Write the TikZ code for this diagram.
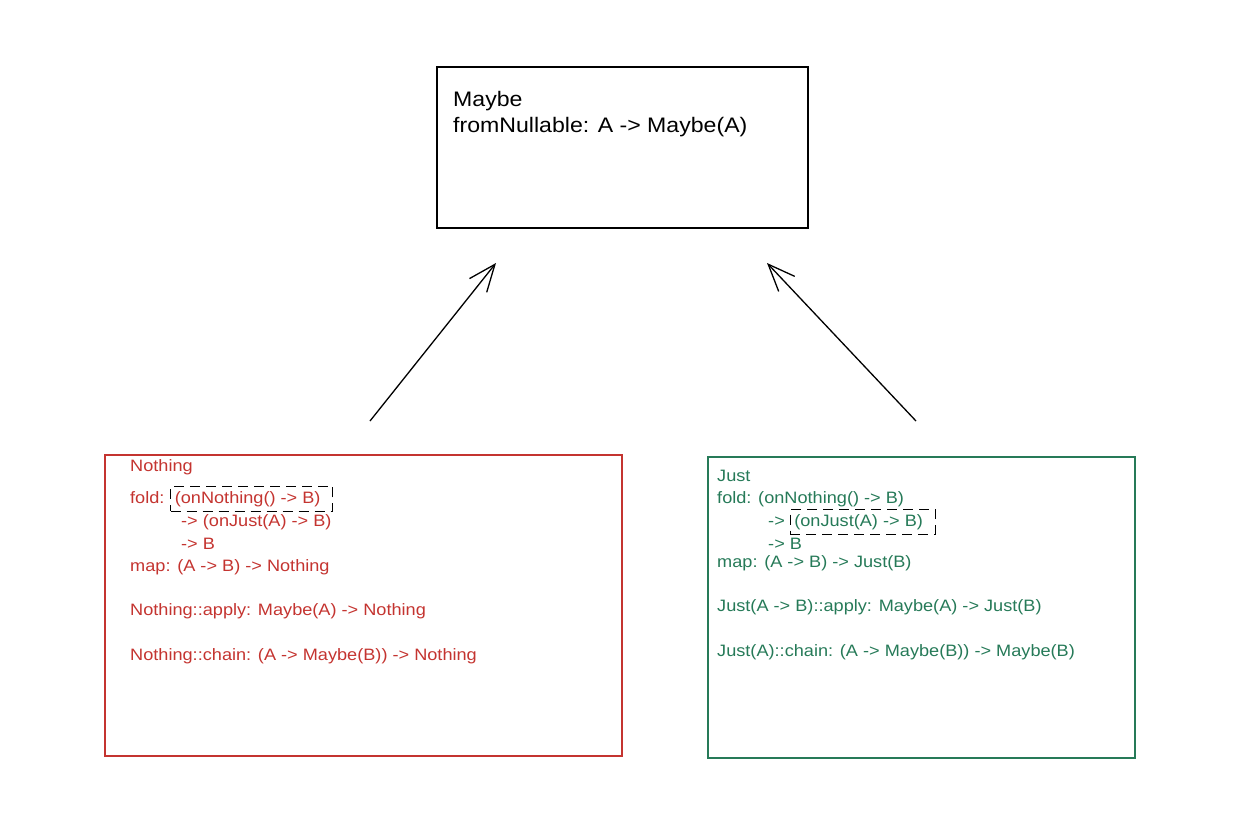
\documentclass[tikz,border=0pt]{standalone}
\usepackage{fontspec}
\setmainfont[FakeStretch=1.1]{Liberation Sans}
\usetikzlibrary{arrows.meta,fit}
\definecolor{nothingred}{RGB}{196,52,48}
\definecolor{justgreen}{RGB}{38,122,88}
\tikzset{
  classbox/.style={draw, line width=1.3pt, inner sep=0pt},
  hintbox/.style={draw=black, dash pattern=on 10pt off 6pt, line width=1.2pt, inner xsep=8pt, inner ysep=4.5pt, xshift=4pt},
  codeline/.style={anchor=base west, inner sep=0pt, font=\fontsize{16.5}{19}\selectfont},
  headline/.style={anchor=base west, inner sep=0pt, font=\fontsize{21}{24}\selectfont},
  extends/.style={line width=1.3pt, -{Straight Barb[length=27pt,width=22pt,line width=1.3pt]}}
}
\begin{document}
\begin{tikzpicture}[x=1pt,y=-1pt]
  \useasboundingbox (0,0) rectangle (1252,822);

  % Maybe
  \node[classbox, minimum width=371pt, minimum height=161pt] (maybe) at (622.5,147.5) {};
  \node[headline] (maybeName) at (453,106) {Maybe};
  \node[headline] (maybeFrom) at (453,132) {fromNullable: A -> Maybe(A)};

  % Nothing
  \node[classbox, draw=nothingred, minimum width=517pt, minimum height=301pt] (nothing) at (363.5,605.5) {};
  \begin{scope}[every node/.style={codeline, text=nothingred}]
    \node (nName)  at (130,471) {Nothing};
    \node (nFold)  at (130,503) {fold:\kern0.6em};
    \node (nFoldArg) at (nFold.base east) {(onNothing() -> B)};
    \node (nFold2) at (181,526) {-> (onJust(A) -> B)};
    \node (nFold3) at (181,549) {-> B};
    \node (nMap)   at (130,571) {map: (A -> B) -> Nothing};
    \node (nAp)    at (130,615) {Nothing::apply: Maybe(A) -> Nothing};
    \node (nChain) at (130,660) {Nothing::chain: (A -> Maybe(B)) -> Nothing};
  \end{scope}
  \node[hintbox, fit=(nFoldArg)] (nHint) {};

  % Just
  \node[classbox, draw=justgreen, minimum width=427pt, minimum height=301pt] (just) at (921.5,607.5) {};
  \begin{scope}[every node/.style={codeline, text=justgreen}]
    \node (jName)  at (717,481) {Just};
    \node (jFold)  at (717,503) {fold: (onNothing() -> B)};
    \node (jFold2) at (768,526) {->\kern0.55em};
    \node (jFold2Arg) at (jFold2.base east) {(onJust(A) -> B)};
    \node (jFold3) at (768,549) {-> B};
    \node (jMap)   at (717,567) {map: (A -> B) -> Just(B)};
    \node (jAp)    at (717,611) {Just(A -> B)::apply: Maybe(A) -> Just(B)};
    \node (jChain) at (717,656) {Just(A)::chain: (A -> Maybe(B)) -> Maybe(B)};
  \end{scope}
  \node[hintbox, fit=(jFold2Arg)] (jHint) {};

  % inheritance arrows
  \coordinate (nTail) at (370,421);
  \coordinate (nHead) at (496,263);
  \coordinate (jTail) at (916,421);
  \coordinate (jHead) at (767,263);
  \draw[extends] (nTail) -- (nHead);
  \draw[extends] (jTail) -- (jHead);
\end{tikzpicture}
\end{document}
